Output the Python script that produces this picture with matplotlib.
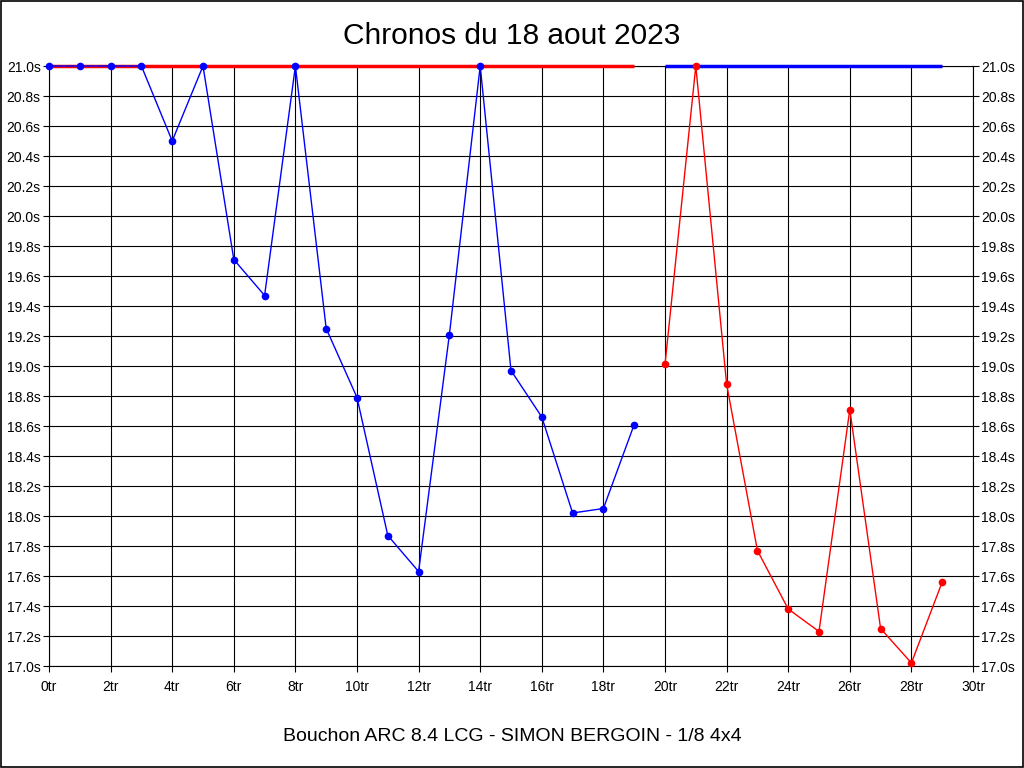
import matplotlib
matplotlib.use("Agg")
import matplotlib.pyplot as plt

plt.rcParams["font.family"] = ["Liberation Sans", "DejaVu Sans"]

# lap times (s) per tour
laps_blue = list(range(0, 20))
times_blue = [21.0, 21.0, 21.0, 21.0, 20.5, 21.0, 19.71, 19.47, 21.0, 19.25,
              18.79, 17.87, 17.63, 19.21, 21.0, 18.97, 18.66, 18.02, 18.05, 18.61]
laps_red = list(range(20, 30))
times_red = [19.01, 21.0, 18.88, 17.77, 17.38, 17.23, 18.71, 17.25, 17.02, 17.56]

# reference lines
ref_red_x = [0, 19]
ref_red_y = [21.0, 21.0]
ref_blue_x = [20, 29]
ref_blue_y = [21.0, 21.0]

x_ticks = list(range(0, 31, 2))
y_ticks = [17.0 + 0.2 * i for i in range(21)]

fig = plt.figure(figsize=(10.24, 7.68), dpi=100)
ax = fig.add_axes([49 / 1024, 1 - 666 / 768, (973 - 49) / 1024, 600 / 768])

ax.plot(ref_red_x, ref_red_y, color="#ff0000", lw=2.5, zorder=3,
        solid_capstyle="butt", clip_on=False)
ax.plot(ref_blue_x, ref_blue_y, color="#0000ff", lw=2.5, zorder=3,
        solid_capstyle="butt", clip_on=False)
ax.plot(laps_blue, times_blue, color="#0000ff", lw=1, marker="o", ms=4.5,
        zorder=4, clip_on=False)
ax.plot(laps_red, times_red, color="#ff0000", lw=1, marker="o", ms=4.5,
        zorder=4, clip_on=False)

ax.set_xlim(0, 30)
ax.set_ylim(17.0, 21.0)
ax.set_xticks(x_ticks)
ax.set_xticklabels([f"{t}tr" for t in x_ticks], fontsize=10)
ax.set_yticks(y_ticks)
ax.set_yticklabels([f"{t:.1f}s" for t in y_ticks], fontsize=10)
ax.tick_params(axis="y", which="both", left=True, right=True,
               labelleft=True, labelright=True, length=4, pad=2)
ax.tick_params(axis="x", length=4, pad=6)
ax.grid(True, color="black", lw=0.8)
ax.set_axisbelow(True)
for s in ax.spines.values():
    s.set_linewidth(0.8)

fig.text(0.5, 1 - 44 / 768, "Chronos du 18 aout 2023", ha="center", va="baseline", fontsize=21.5)
fig.text(0.5, 1 - 741 / 768, "Bouchon ARC 8.4 LCG - SIMON BERGOIN - 1/8 4x4",
         ha="center", va="baseline", fontsize=14)

border = plt.Rectangle((0.0005, 0.0007), 0.999, 0.9986, transform=fig.transFigure,
                       fill=False, edgecolor="black", lw=1.2)
fig.patches.append(border)

fig.savefig("out.png", dpi=100)
